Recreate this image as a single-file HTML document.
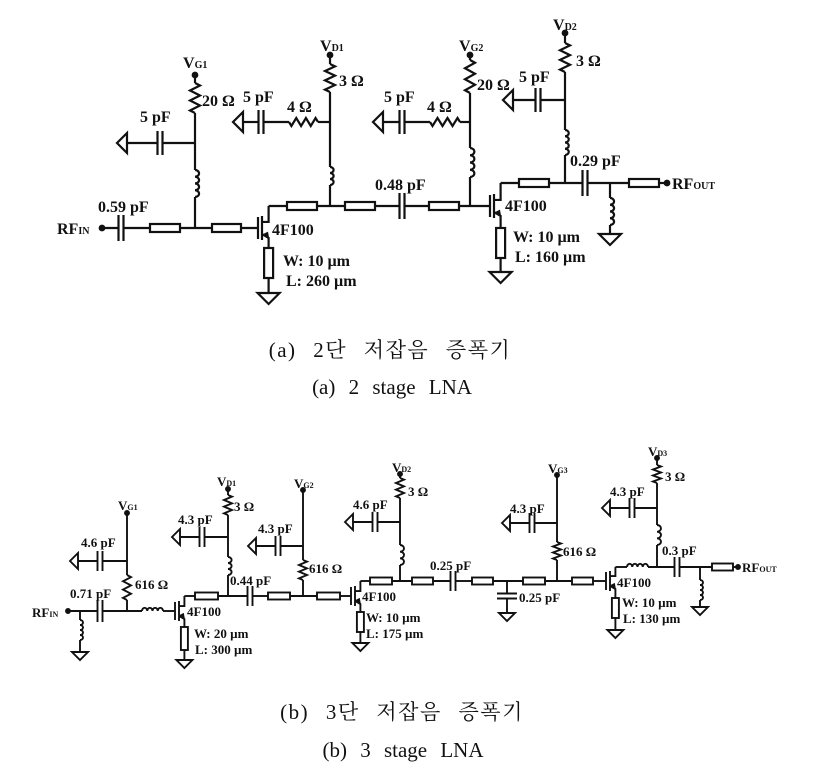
<!DOCTYPE html>
<html><head><meta charset="utf-8"><style>
html,body{margin:0;padding:0;background:#fff;}
svg{display:block;}
text{font-family:"Liberation Serif","Noto Serif CJK SC",serif;font-weight:bold;fill:#111;}
.cap{font-weight:normal;font-family:"Liberation Serif","Noto Serif CJK SC","Noto Sans CJK KR",serif;}
</style></head><body>
<svg id="s" width="825" height="780" viewBox="0 0 825 780" xmlns="http://www.w3.org/2000/svg">
<g id="g" fill="none" stroke="#111" stroke-linejoin="miter"></g>
<g font-size="16">
<text x="57" y="234">RF<tspan font-size="10">IN</tspan></text>
<text x="98" y="212">0.59 pF</text>
<text x="183" y="68">V<tspan font-size="10">G1</tspan></text>
<text x="202" y="106">20 Ω</text>
<text x="140" y="122">5 pF</text>
<text x="320" y="51">V<tspan font-size="10">D1</tspan></text>
<text x="339" y="86">3 Ω</text>
<text x="243" y="102">5 pF</text>
<text x="287" y="112">4 Ω</text>
<text x="272" y="235">4F100</text>
<text x="283" y="266">W: 10 µm</text>
<text x="286" y="286">L: 260 µm</text>
<text x="375" y="190">0.48 pF</text>
<text x="384" y="102">5 pF</text>
<text x="427" y="112">4 Ω</text>
<text x="459" y="51">V<tspan font-size="10">G2</tspan></text>
<text x="477" y="90">20 Ω</text>
<text x="519" y="82">5 pF</text>
<text x="553" y="30">V<tspan font-size="10">D2</tspan></text>
<text x="576" y="66">3 Ω</text>
<text x="570" y="166">0.29 pF</text>
<text x="672" y="189">RF<tspan font-size="10">OUT</tspan></text>
<text x="505" y="211">4F100</text>
<text x="513" y="242">W: 10 µm</text>
<text x="515" y="262">L: 160 µm</text>
</g>
<g font-size="13">
<text x="32" y="617">RF<tspan font-size="8">IN</tspan></text>
<text x="70" y="598">0.71 pF</text>
<text x="118" y="510">V<tspan font-size="8">G1</tspan></text>
<text x="81" y="547">4.6 pF</text>
<text x="135" y="589">616 Ω</text>
<text x="217" y="486">V<tspan font-size="8">D1</tspan></text>
<text x="234" y="511">3 Ω</text>
<text x="178" y="524">4.3 pF</text>
<text x="187" y="616">4F100</text>
<text x="194" y="638">W: 20 µm</text>
<text x="195" y="654">L: 300 µm</text>
<text x="230" y="585">0.44 pF</text>
<text x="294" y="488">V<tspan font-size="8">G2</tspan></text>
<text x="258" y="533">4.3 pF</text>
<text x="309" y="573">616 Ω</text>
<text x="362" y="601">4F100</text>
<text x="366" y="622">W: 10 µm</text>
<text x="366" y="638">L: 175 µm</text>
<text x="392" y="472">V<tspan font-size="8">D2</tspan></text>
<text x="408" y="496">3 Ω</text>
<text x="353" y="509">4.6 pF</text>
<text x="430" y="570">0.25 pF</text>
<text x="519" y="602">0.25 pF</text>
<text x="548" y="473">V<tspan font-size="8">G3</tspan></text>
<text x="510" y="513">4.3 pF</text>
<text x="563" y="556">616 Ω</text>
<text x="648" y="456">V<tspan font-size="8">D3</tspan></text>
<text x="665" y="481">3 Ω</text>
<text x="610" y="496">4.3 pF</text>
<text x="662" y="555">0.3 pF</text>
<text x="742" y="572">RF<tspan font-size="8">OUT</tspan></text>
<text x="617" y="587">4F100</text>
<text x="622" y="607">W: 10 µm</text>
<text x="623" y="623">L: 130 µm</text>
</g>
<g font-size="21" text-anchor="middle">
<text class="cap" x="390" y="357" letter-spacing="1.5" word-spacing="10">(a) 2단 저잡음 증폭기</text>
<text class="cap" x="392" y="394" word-spacing="8">(a) 2 stage LNA</text>
<text class="cap" x="402" y="719" letter-spacing="1.5" word-spacing="10">(b) 3단 저잡음 증폭기</text>
<text class="cap" x="403" y="757" word-spacing="8">(b) 3 stage LNA</text>
</g>
</svg>
<script>
var G=document.getElementById('g');var SW=2;
function el(t,a){var e=document.createElementNS('http://www.w3.org/2000/svg',t);for(var k in a)e.setAttribute(k,a[k]);e.setAttribute('stroke-width',a.sw||SW);G.appendChild(e);return e;}
function w(x1,y1,x2,y2){el('line',{x1:x1,y1:y1,x2:x2,y2:y2});}
function pl(p){el('polyline',{points:p});}
function dot(x,y,r){el('circle',{cx:x,cy:y,r:r||2.3,fill:'#111'});}
function capV(x,y,h){w(x-2.5,y-h,x-2.5,y+h);w(x+2.5,y-h,x+2.5,y+h);}
function capH(x,y,h){w(x-h,y-2.5,x+h,y-2.5);w(x-h,y+2.5,x+h,y+2.5);}
function tlH(x1,x2,y,h){h=h||4;el('rect',{x:x1,y:y-h,width:x2-x1,height:2*h});}
function tlV(x,y1,y2,h){h=h||4;el('rect',{x:x-h,y:y1,width:2*h,height:y2-y1});}
function resV(x,y1,y2,a){a=a||4;var n=6,d=(y2-y1)/n,p=x+','+y1;for(var i=0;i<n;i++){p+=' '+(x+(i%2?-a:a))+','+(y1+d*(i+0.5));}p+=' '+x+','+y2;pl(p);}
function resH(x1,x2,y,a){a=a||4;var n=6,d=(x2-x1)/n,p=x1+','+y;for(var i=0;i<n;i++){p+=' '+(x1+d*(i+0.5))+','+(y+(i%2?-a:a));}p+=' '+x2+','+y;pl(p);}
function indV(x,y1,y2,n){n=n||4;var r=(y2-y1)/n/2,d='M'+x+' '+y1;for(var i=0;i<n;i++)d+=' a'+r*1.2+' '+r+' 0 0 1 0 '+2*r;el('path',{d:d});}
function indH(x1,x2,y,n){n=n||4;var r=(x2-x1)/n/2,d='M'+x1+' '+y;for(var i=0;i<n;i++)d+=' a'+r+' '+r*1.2+' 0 0 1 '+2*r+' 0';el('path',{d:d});}
function gndL(tip,y,L,h){el('polygon',{points:tip+','+y+' '+(tip+L)+','+(y-h)+' '+(tip+L)+','+(y+h)});}
function gndD(x,y,h,L){el('polygon',{points:(x-h)+','+y+' '+(x+h)+','+y+' '+x+','+(y+L)});}
function fet(gx,y,s,dy,sy){
  w(gx,y-s,gx,y+s);w(gx+4,y-s-1,gx+4,y+s+1);
  var dx=gx+4+s*0.6;
  pl((gx+4)+','+(y-s*0.55)+' '+dx+','+(y-s*0.55)+' '+dx+','+dy);
  pl((gx+4)+','+(y+s*0.55)+' '+dx+','+(y+s*0.9)+' '+dx+','+sy);
  el('polygon',{points:dx+','+(y+s*0.9)+' '+(dx-4)+','+(y+s*0.9-4)+' '+(dx-1)+','+(y+s*0.9-5.5),fill:'#111',sw:1});
  return dx;}
SW=2.2;
dot(102,228);w(102,228,119,228);capV(121,228,13);w(124,228,150,228);tlH(150,180,228);w(180,228,212,228);tlH(212,241,228);w(241,228,258,228);
var d1=fet(258,228,11,206,248);
w(d1,206,287,206);tlH(287,317,206);w(317,206,345,206);tlH(345,375,206);w(375,206,400,206);capV(402,206,13);w(405,206,429,206);tlH(429,459,206);w(459,206,490,206);
var d2=fet(490,206,11,183,228);
w(d2,183,519,183);tlH(519,549,183);w(549,183,583,183);capV(585,183,13);w(588,183,629,183);tlH(629,659,183);w(659,183,667,183);dot(667,183);
tlV(d1,248,278,4.5);w(d1,278,d1,293);gndD(d1,293,11,11);
tlV(d2,228,258,4.5);w(d2,258,d2,272);gndD(d2,272,11,11);
dot(195,75);w(195,75,195,83);resV(195,83,113,5);w(195,113,195,170);indV(195,170,197);w(195,197,195,228);
w(195,143,162,143);capV(160,143,12);w(157,143,127,143);gndL(117,143,10,10);
dot(330,55);w(330,55,330,64);resV(330,64,92,5);w(330,92,330,167);indV(330,167,185,3);w(330,185,330,206);
w(330,122,318,122);resH(289,318,122,4);w(289,122,263,122);capV(261,122,12);w(258,122,243,122);gndL(233,122,10,10);
dot(470,55);w(470,55,470,60);resV(470,60,93,5);w(470,93,470,148);indV(470,148,177);w(470,177,470,206);
w(470,122,460,122);resH(430,460,122,4);w(430,122,405,122);capV(402,122,12);w(400,122,383,122);gndL(373,122,10,10);
dot(565,33);w(565,33,565,43);resV(565,43,72,5);w(565,72,565,130);indV(565,130,155);w(565,155,565,183);
w(565,100,541,100);capV(538,100,12);w(535,100,513,100);gndL(503,100,10,10);
w(610,183,610,198);indV(610,198,225);w(610,225,610,234);gndD(610,234,11,11);
SW=1.9;
dot(68,611,2);w(68,611,98,611);capV(100,611,11);w(103,611,142,611);indH(142,163,611);w(163,611,175,611);
w(80,611,80,620);indV(80,620,640);w(80,640,80,652);gndD(80,652,8,8);
var e1=fet(175,611,9,596,627);
w(e1,596,195,596);tlH(195,218,596,3.5);w(218,596,248,596);capV(250,596,10);w(253,596,268,596);tlH(268,290,596,3.5);w(290,596,317,596);tlH(317,340,596,3.5);w(340,596,351,596);
var e2=fet(351,596,9,581,612);
w(e2,581,370,581);tlH(370,392,581,3.5);w(392,581,412,581);tlH(412,433,581,3.5);w(433,581,451,581);capV(453,581,10);w(456,581,472,581);tlH(472,493,581,3.5);w(493,581,523,581);tlH(523,545,581,3.5);w(545,581,572,581);tlH(572,593,581,3.5);w(593,581,606,581);
var e3=fet(606,581,9,567,598);
w(e3,567,627,567);indH(627,648,567);w(648,567,675,567);capV(677,567,10);w(680,567,712,567);tlH(712,733,567,3.5);w(733,567,738,567);dot(738,567,2);
w(507,581,507,593);capH(507,596,10);w(507,598,507,613);gndD(507,613,8,8);
w(700,567,700,580);indV(700,580,600);w(700,600,700,607);gndD(700,607,8,8);
tlV(e1,627,650,3.5);w(e1,650,e1,660);gndD(e1,660,8,8);
tlV(e2,612,632,3.5);w(e2,632,e2,643);gndD(e2,643,8,8);
tlV(e3,598,618,3.5);w(e3,618,e3,630);gndD(e3,630,8,8);
dot(127,513,2);w(127,513,127,575);resV(127,575,600,4);w(127,600,127,611);
w(127,561,103,561);capV(100,561,10);w(98,561,78,561);gndL(70,561,8,8);
dot(228,489,2);w(228,489,228,495);resV(228,495,515,4);w(228,515,228,557);indV(228,557,575,3);w(228,575,228,596);
w(228,537,205,537);capV(202,537,10);w(200,537,180,537);gndL(172,537,8,8);
dot(303,490,2);w(303,490,303,560);resV(303,560,580,4);w(303,580,303,596);
w(303,546,281,546);capV(278,546,10);w(276,546,256,546);gndL(248,546,8,8);
dot(400,474,2);w(400,474,400,478);resV(400,478,498,4);w(400,498,400,545);indV(400,545,565,3);w(400,565,400,581);
w(400,522,378,522);capV(375,522,10);w(373,522,353,522);gndL(345,522,8,8);
dot(557,475,2);w(557,475,557,542);resV(557,542,560,4);w(557,560,557,581);
w(557,523,535,523);capV(532,523,10);w(530,523,510,523);gndL(502,523,8,8);
dot(657,458,2);w(657,458,657,465);resV(657,465,483,4);w(657,483,657,525);indV(657,525,545,3);w(657,545,657,567);
w(657,508,635,508);capV(632,508,10);w(630,508,610,508);gndL(602,508,8,8);
</script>
</body></html>
